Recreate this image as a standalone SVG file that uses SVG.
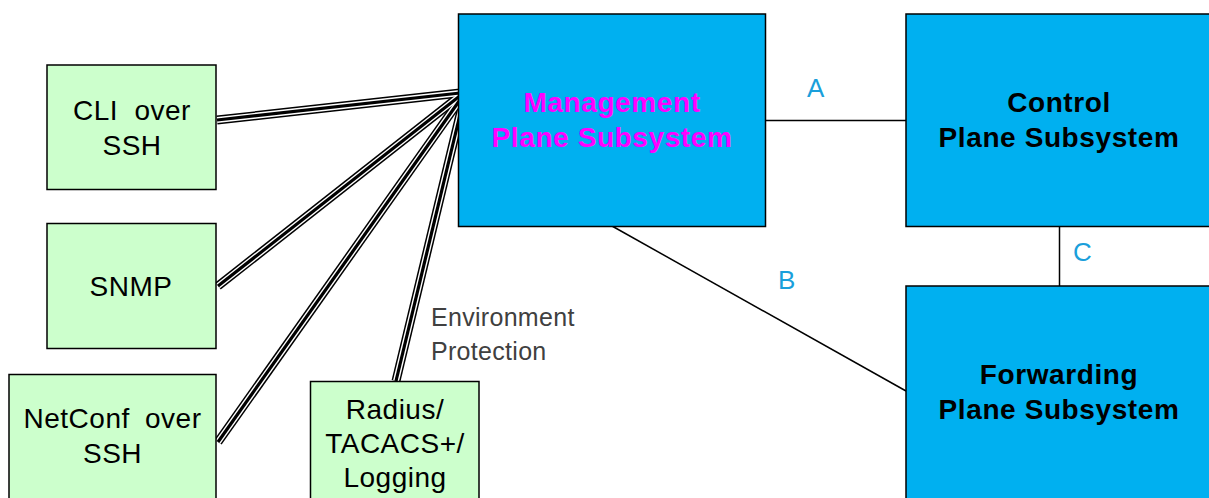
<svg xmlns="http://www.w3.org/2000/svg" width="1209" height="498" viewBox="0 0 1209 498">
<style>
.g{fill:#ccffcc;stroke:#000;stroke-width:1.5}
.b{fill:#00b0f0;stroke:#000;stroke-width:1.5}
.t{font-family:"Liberation Sans",Arial,sans-serif;font-size:28px;fill:#000;text-anchor:middle;letter-spacing:0.5px}
.h{font-family:"Liberation Sans",Arial,sans-serif;font-size:28px;font-weight:bold;text-anchor:middle;letter-spacing:0.6px}
.l{font-family:"Liberation Sans",Arial,sans-serif;font-size:26px;fill:#1a9fdb}
.e{font-family:"Liberation Sans",Arial,sans-serif;font-size:25px;fill:#404040;letter-spacing:0.3px}
.w1{stroke:#000;stroke-width:9;fill:none}
.w2{stroke:#fff;stroke-width:6;fill:none}
.w3{stroke:#000;stroke-width:3.2;fill:none}
.s{stroke:#000;stroke-width:1.5;fill:none}
</style>
<rect width="1209" height="498" fill="#fff"/>
<g id="connectors">
<line class="s" x1="765" y1="120.5" x2="906" y2="120.5"/>
<line class="s" x1="1059.5" y1="226" x2="1059.5" y2="286"/>
<line class="s" x1="612" y1="226" x2="906" y2="391"/>
<g id="triples">
<line class="w1" x1="217" y1="120" x2="460" y2="93"/>
<line class="w1" x1="218" y1="286" x2="461" y2="95"/>
<line class="w1" x1="218" y1="442" x2="462" y2="97"/>
<line class="w1" x1="396" y1="381" x2="464" y2="98"/>
<line class="w2" x1="217" y1="120" x2="460" y2="93"/>
<line class="w2" x1="218" y1="286" x2="461" y2="95"/>
<line class="w2" x1="218" y1="442" x2="462" y2="97"/>
<line class="w2" x1="396" y1="381" x2="464" y2="98"/>
<line class="w3" x1="217" y1="120" x2="460" y2="93"/>
<line class="w3" x1="218" y1="286" x2="461" y2="95"/>
<line class="w3" x1="218" y1="442" x2="462" y2="97"/>
<line class="w3" x1="396" y1="381" x2="464" y2="98"/>
</g>
</g>
<g id="mgmt">
<rect class="b" x="458.5" y="14" width="307" height="212.5"/>
<text class="h" fill="#ff00ff" x="612" y="112">Management</text>
<text class="h" fill="#ff00ff" x="612" y="147">Plane Subsystem</text>
</g>
<g id="control">
<rect class="b" x="906" y="14" width="310" height="212.5"/>
<text class="h" x="1059" y="112">Control</text>
<text class="h" x="1059" y="147">Plane Subsystem</text>
</g>
<g id="forwarding">
<rect class="b" x="906" y="286" width="310" height="220"/>
<text class="h" x="1059" y="384">Forwarding</text>
<text class="h" x="1059" y="419">Plane Subsystem</text>
</g>
<g id="cli">
<rect class="g" x="47" y="65" width="169" height="124.5"/>
<text class="t" x="132" y="120" word-spacing="8">CLI over</text>
<text class="t" x="132" y="155">SSH</text>
</g>
<g id="snmp">
<rect class="g" x="47" y="223.5" width="169" height="125"/>
<text class="t" x="131" y="296">SNMP</text>
</g>
<g id="netconf">
<rect class="g" x="9" y="374.5" width="207" height="130"/>
<text class="t" x="112.5" y="428" word-spacing="7">NetConf over</text>
<text class="t" x="112.5" y="463">SSH</text>
</g>
<g id="radius">
<rect class="g" x="310.5" y="381.5" width="168.5" height="125"/>
<text class="t" x="395" y="419">Radius/</text>
<text class="t" x="395" y="453">TACACS+/</text>
<text class="t" x="395" y="487">Logging</text>
</g>
<g id="labels">
<text class="l" x="807" y="97">A</text>
<text class="l" x="778" y="289">B</text>
<text class="l" x="1073" y="261">C</text>
<text class="e" x="431" y="326">Environment</text>
<text class="e" x="431" y="360">Protection</text>
</g>
</svg>
